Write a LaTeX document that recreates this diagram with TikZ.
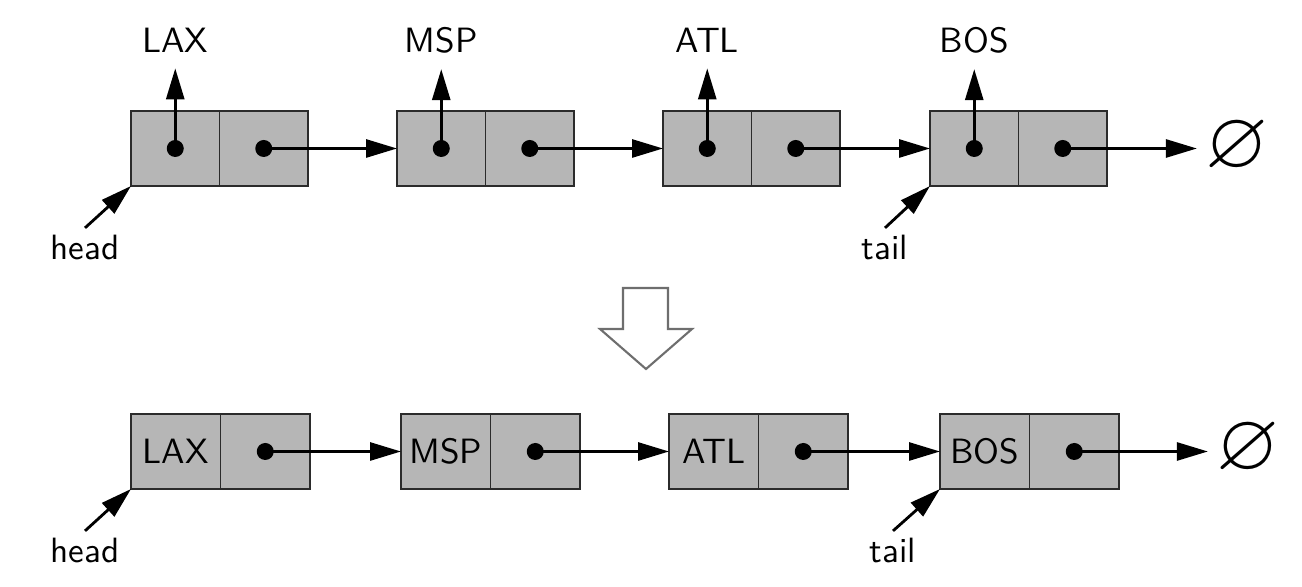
\documentclass[tikz,border=0pt]{standalone}
\usepackage{amssymb}
\usetikzlibrary{positioning,arrows.meta}
\definecolor{cellgrey} {HTML}{B6B6B6}
\definecolor{edgegrey} {HTML}{2B2B2B}
\definecolor{arrowgrey}{HTML}{6E6E6E}
\tikzset{
  cell/.style    ={draw=edgegrey, line width=0.5pt, fill=cellgrey,
                   minimum width=0.885cm, minimum height=0.75cm,
                   inner sep=0pt, outer sep=0pt, font=\sffamily},
  cellw/.style   ={cell, minimum width=0.895cm},
  ptrdot/.style  ={circle, fill=black, minimum size=0.17cm, inner sep=0pt},
  ptr/.style     ={-{Triangle[length=0.31cm, width=0.18cm]}, line width=0.8pt},
  lbl/.style     ={font=\sffamily, inner sep=0.15cm},
  tag/.style     ={font=\sffamily, inner sep=0.07cm},
  nil/.style     ={font=\fontsize{23}{23}\selectfont, inner ysep=0pt,
                   inner xsep=0.08cm},
  bigarrow/.style={draw=arrowgrey, line width=0.6pt, fill=white}
}

\begin{document}
\begin{tikzpicture}
\useasboundingbox (0,0) rectangle (13.02,-5.87);
% list before the change: each node holds a pointer to its element
\node[cell] (a1) at (1.7525,-1.485) {};
\node[cell, right=0pt of a1] (b1) {};
\node[cell] (a2) at (4.4125,-1.485) {};
\node[cell, right=0pt of a2] (b2) {};
\node[cell] (a3) at (7.0725,-1.485) {};
\node[cell, right=0pt of a3] (b3) {};
\node[cell] (a4) at (9.7425,-1.485) {};
\node[cell, right=0pt of a4] (b4) {};
\node[ptrdot] (p1) at (a1) {};
\node[ptrdot] (q1) at (b1) {};
\node[ptrdot] (p2) at (a2) {};
\node[ptrdot] (q2) at (b2) {};
\node[ptrdot] (p3) at (a3) {};
\node[ptrdot] (q3) at (b3) {};
\node[ptrdot] (p4) at (a4) {};
\node[ptrdot] (q4) at (b4) {};
\node[lbl] (l1) at (1.7525,-0.405) {LAX};
\node[lbl] (l2) at (4.4125,-0.405) {MSP};
\node[lbl] (l3) at (7.0725,-0.405) {ATL};
\node[lbl] (l4) at (9.7425,-0.405) {BOS};
\node[nil] (z1) at (12.37,-1.47) {$\varnothing$};
\node[tag] (h1) at (0.85,-2.48) {head};
\node[tag] (t1) at (8.85,-2.48) {tail};

\draw[ptr] (p1.center) -- (l1);
\draw[ptr] (p2.center) -- (l2);
\draw[ptr] (p3.center) -- (l3);
\draw[ptr] (p4.center) -- (l4);
\draw[ptr] (q1.center) -- (a2.west);
\draw[ptr] (q2.center) -- (a3.west);
\draw[ptr] (q3.center) -- (a4.west);
\draw[ptr] (q4.center) -- (q4.center -| z1.west);
\draw[ptr] (h1.north) -- (a1.south west);
\draw[ptr] (t1.north) -- (a4.south west);

\draw[bigarrow] (6.23,-2.88) -- (6.68,-2.88) -- (6.68,-3.29) -- (6.92,-3.29)
  -- (6.46,-3.69) -- (6.00,-3.29) -- (6.23,-3.29) -- cycle;

% list after the change: the elements sit inside the nodes
\node[cellw] (c1) at (1.7575,-4.515) {LAX};
\node[cellw, right=0pt of c1] (d1) {};
\node[cellw] (c2) at (4.4575,-4.515) {MSP};
\node[cellw, right=0pt of c2] (d2) {};
\node[cellw] (c3) at (7.1375,-4.515) {ATL};
\node[cellw, right=0pt of c3] (d3) {};
\node[cellw] (c4) at (9.8475,-4.515) {BOS};
\node[cellw, right=0pt of c4] (d4) {};
\node[ptrdot] (r1) at (d1) {};
\node[ptrdot] (r2) at (d2) {};
\node[ptrdot] (r3) at (d3) {};
\node[ptrdot] (r4) at (d4) {};
\node[nil] (z2) at (12.48,-4.49) {$\varnothing$};
\node[tag] (h2) at (0.85,-5.51) {head};
\node[tag] (t2) at (8.93,-5.51) {tail};

\draw[ptr] (r1.center) -- (c2.west);
\draw[ptr] (r2.center) -- (c3.west);
\draw[ptr] (r3.center) -- (c4.west);
\draw[ptr] (r4.center) -- (r4.center -| z2.west);
\draw[ptr] (h2.north) -- (c1.south west);
\draw[ptr] (t2.north) -- (c4.south west);
\end{tikzpicture}
\end{document}
